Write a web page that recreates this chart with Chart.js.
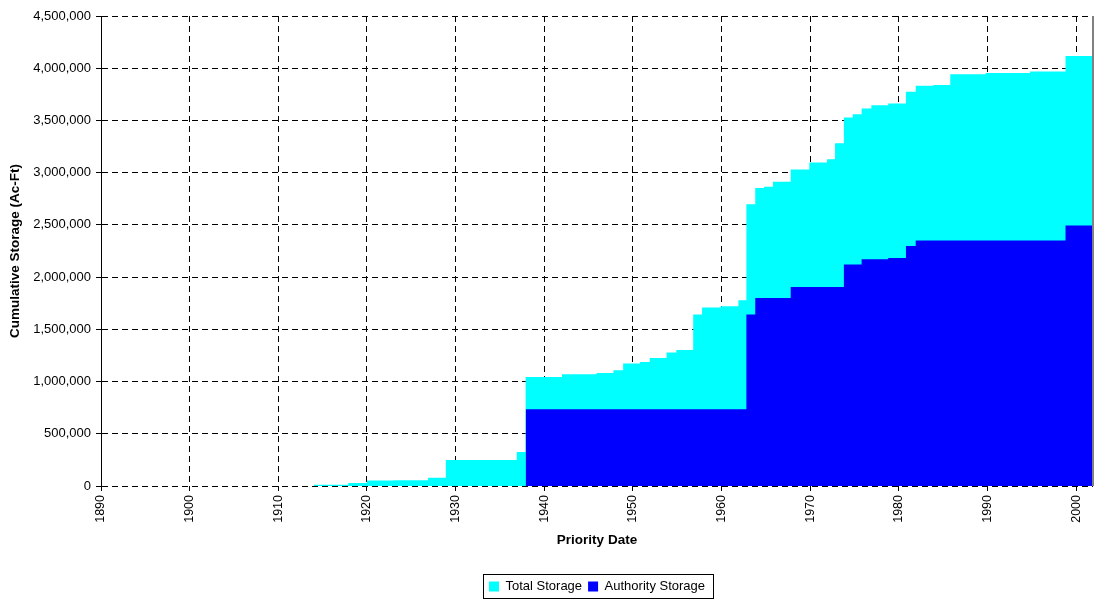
<!DOCTYPE html>
<html>
<head>
<meta charset="utf-8">
<title>Cumulative Storage by Priority Date</title>
<script src="https://cdn.jsdelivr.net/npm/chart.js@4.4.0/dist/chart.umd.min.js"></script>
<style>
  html, body { margin: 0; padding: 0; background: #fff; }
  #wrap { position: relative; width: 1096px; height: 599px; }
</style>
</head>
<body>
<div id="wrap"><canvas id="chart"></canvas></div>
<script>
// Step starts (priority year) and cumulative storage in acre-feet.
const totalYears = [
  1914.0, 1917.9, 1920.0, 1923.0, 1926.9, 1928.9, 1936.9, 1937.9,
  1942.0, 1945.9, 1947.8, 1948.9, 1950.8, 1951.9, 1953.8, 1954.9,
  1956.8, 1957.8, 1959.9, 1961.9, 1962.8, 1963.8, 1964.8, 1965.8,
  1967.8, 1969.9, 1971.9, 1972.8, 1973.8, 1974.8, 1975.8, 1976.9,
  1978.8, 1980.8, 1981.9, 1983.9, 1985.8, 1989.8, 1994.8, 1998.8, 2001.9
];
const totalStorage = [
  13000, 29000, 52000, 56000, 80000, 249000, 326000, 1044000,
  1070000, 1082000, 1108000, 1172000, 1188000, 1226000, 1278000, 1303000,
  1642000, 1709000, 1721000, 1779000, 2698000, 2854000, 2866000, 2912000,
  3030000, 3097000, 3129000, 3282000, 3528000, 3560000, 3615000, 3646000,
  3662000, 3774000, 3831000, 3840000, 3943000, 3955000, 3968000, 4118000, 4118000
];

const authorityYears = [
  1937.9, 1962.8, 1963.8, 1967.8, 1973.8, 1975.8, 1978.8, 1980.8, 1981.9, 1998.8, 2001.9
];
const authorityStorage = [
  735000, 1642000, 1800000, 1906000, 2120000, 2171000, 2184000, 2299000, 2350000, 2494000, 2494000
];

const X_MIN = 1890, X_MAX = 2001.9, X_STEP = 10;
const Y_MIN = 0, Y_MAX = 4500000, Y_STEP = 500000;

const pts = (xs, ys) => xs.map((x, i) => ({ x: x, y: ys[i] }));

Chart.defaults.font.family = '"Liberation Sans", Arial, sans-serif';
Chart.defaults.font.size = 13;
Chart.defaults.color = '#000';

// plain frame pieces the library does not draw: grey right edge, legend box,
// and the legend centred under the plot rather than the whole canvas
const framePlugin = {
  id: 'frame',
  afterUpdate(chart) {
    const lg = chart.legend, a = chart.chartArea;
    if (!lg || !lg.legendHitBoxes) return;
    const dx = (a.left + a.right) / 2 - (lg.left + lg.right) / 2;
    lg.left += dx;
    lg.right += dx;
    lg.legendHitBoxes.forEach(h => { h.left += dx; });
  },
  afterDraw(chart) {
    const { ctx, chartArea: a } = chart;
    ctx.save();
    ctx.strokeStyle = '#808080';
    ctx.lineWidth = 2;
    ctx.beginPath();
    ctx.moveTo(a.right, a.top);
    ctx.lineTo(a.right, a.bottom);
    ctx.stroke();

    const boxes = chart.legend && chart.legend.legendHitBoxes;
    if (boxes && boxes.length) {
      let l = Infinity, r = -Infinity, t = Infinity, b = -Infinity;
      boxes.forEach(h => {
        l = Math.min(l, h.left); r = Math.max(r, h.left + h.width);
        t = Math.min(t, h.top); b = Math.max(b, h.top + h.height);
      });
      ctx.strokeStyle = '#000';
      ctx.lineWidth = 1;
      ctx.strokeRect(Math.round(l - 6) + 0.5, Math.round(t - 6) + 0.5,
                     Math.round(r - l + 14), Math.round(b - t + 11));
    }
    ctx.restore();
  }
};

new Chart(document.getElementById('chart'), {
  type: 'line',
  data: {
    datasets: [
      {
        label: 'Total Storage',
        data: pts(totalYears, totalStorage),
        backgroundColor: '#00FFFF',
        borderColor: '#00FFFF',
        borderWidth: 0,
        fill: 'origin',
        stepped: 'before',
        pointRadius: 0,
        order: 2
      },
      {
        label: 'Authority Storage',
        data: pts(authorityYears, authorityStorage),
        backgroundColor: '#0000FF',
        borderColor: '#0000FF',
        borderWidth: 0,
        fill: 'origin',
        stepped: 'before',
        pointRadius: 0,
        order: 1
      }
    ]
  },
  options: {
    responsive: true,
    maintainAspectRatio: false,
    animation: false,
    layout: { padding: { top: 16, right: 3, left: 0, bottom: 0 } },
    plugins: {
      tooltip: { enabled: false },
      legend: {
        position: 'bottom',
        maxHeight: 25,
        labels: {
          boxWidth: 10, boxHeight: 10, padding: 6,
          font: { size: 13 },
          color: '#000',
          sort: (a, b) => a.datasetIndex - b.datasetIndex
        }
      }
    },
    scales: {
      x: {
        type: 'linear',
        min: X_MIN, max: X_MAX,
        afterFit: s => { s.height = 88; },
        ticks: {
          stepSize: X_STEP,
          includeBounds: false,
          maxRotation: 90, minRotation: 90,
          padding: 4,
          color: '#000',
          font: { size: 12.5 },
          callback: v => String(v)
        },
        grid: { color: '#000', lineWidth: 1, tickLength: 5, tickColor: '#000' },
        border: { display: false, dash: [6, 4] },
        title: {
          display: true, text: 'Priority Date',
          font: { size: 13.5, weight: 'bold' }, color: '#000',
          padding: { top: 0, bottom: 26 }
        }
      },
      y: {
        min: Y_MIN, max: Y_MAX,
        afterFit: s => { s.width = 101; },
        ticks: {
          stepSize: Y_STEP,
          padding: 5,
          color: '#000',
          font: { size: 13 },
          callback: v => v.toLocaleString('en-US')
        },
        grid: { color: '#000', lineWidth: 1, tickLength: 5, tickColor: '#000' },
        border: { display: true, color: '#000', width: 1, dash: [6, 4] },
        title: {
          display: true, text: 'Cumulative Storage (Ac-Ft)',
          font: { size: 13.5, weight: 'bold' }, color: '#000',
          padding: { top: 7, bottom: 0 }
        }
      }
    }
  },
  plugins: [framePlugin]
});
</script>
</body>
</html>
